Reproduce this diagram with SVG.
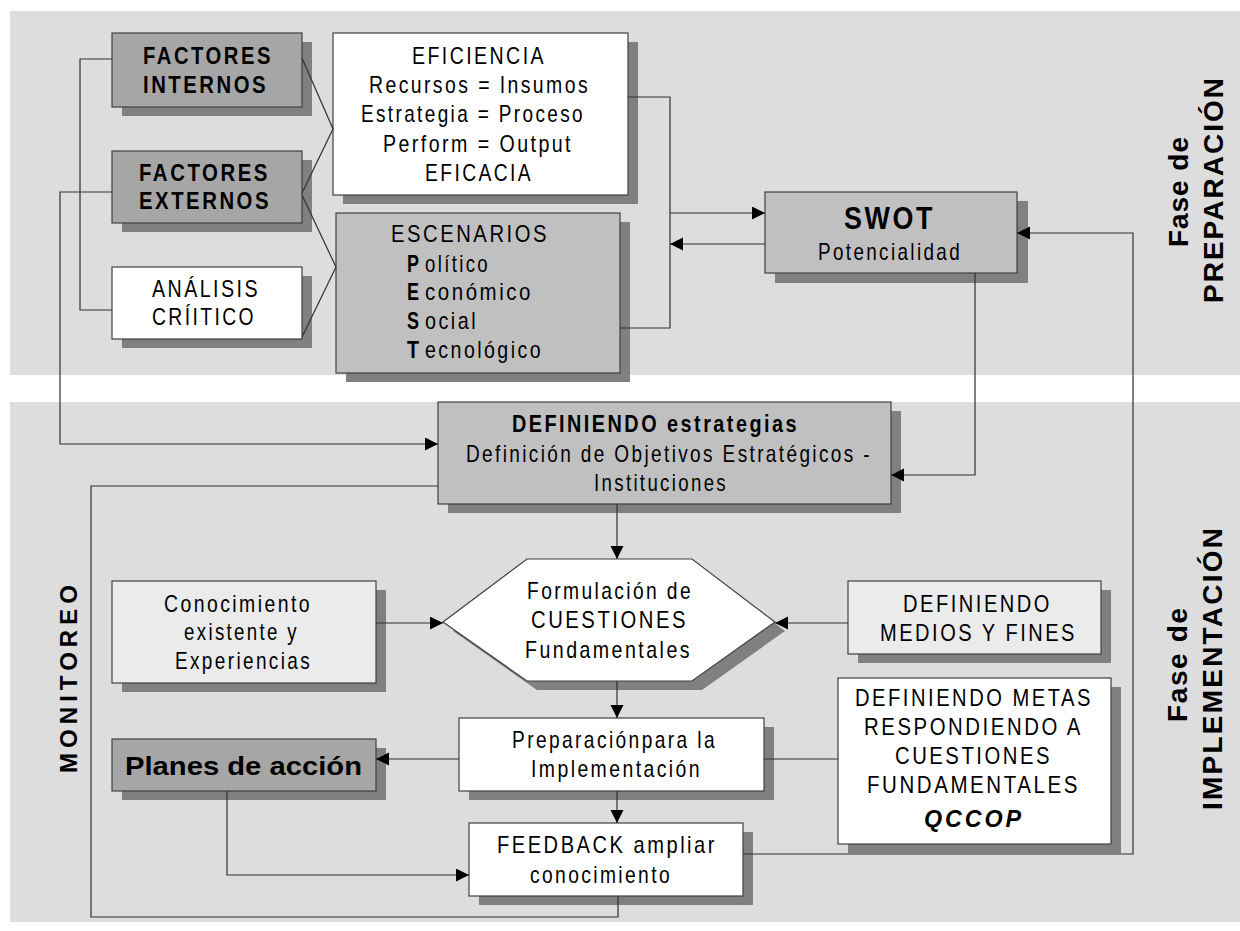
<svg xmlns="http://www.w3.org/2000/svg" width="1240" height="931" viewBox="0 0 1240 931">
<style>
.panel{fill:#dddddd}
.sh{fill:#808080}
.box{stroke:#404040;stroke-width:1.2}
.dark{fill:#a6a6a6}
.mid{fill:#c0c0c0}
.light{fill:#ebebeb}
.white{fill:#ffffff}
.t{font-family:"Liberation Sans",Arial,sans-serif;font-size:24px;letter-spacing:3px;fill:#000}
.b{font-weight:bold}
.side{font-family:"Liberation Sans",Arial,sans-serif;font-size:28px;font-weight:bold;fill:#000}
.con{fill:none;stroke:#303030;stroke-width:1.2}
</style>
<defs>
<marker id="ah" markerUnits="userSpaceOnUse" markerWidth="14" markerHeight="14" refX="13" refY="6.5" orient="auto">
<path d="M0,0 L13,6.5 L0,13 z" fill="#000"/>
</marker>
</defs>

<rect class="panel" x="10" y="11" width="1230" height="364"/>
<rect class="panel" x="10" y="402" width="1230" height="520"/>

<g id="fase-preparacion">
<text class="side" transform="translate(1188,192) rotate(-90)" x="-55" textLength="110" lengthAdjust="spacing">Fase de</text>
<text class="side" transform="translate(1223,190.5) rotate(-90)" x="-112.5" textLength="225" lengthAdjust="spacing">PREPARACIÓN</text>
</g>
<g id="fase-implementacion">
<text class="side" transform="translate(1187,665) rotate(-90)" x="-57" textLength="114" lengthAdjust="spacing">Fase de</text>
<text class="side" transform="translate(1222,669) rotate(-90)" x="-141" textLength="282" lengthAdjust="spacing">IMPLEMENTACIÓN</text>
</g>
<g id="monitoreo">
<text class="side" style="font-size:24px" transform="translate(77,679) rotate(-90)" x="-94" textLength="188" lengthAdjust="spacing">MONITOREO</text>
</g>

<g id="factores-internos">
<rect class="sh" x="122" y="42" width="190" height="74"/>
<rect class="box dark" x="112" y="33" width="190" height="74"/>
<text class="t b" x="143" y="64" textLength="130" lengthAdjust="spacingAndGlyphs">FACTORES</text>
<text class="t b" x="143" y="93" textLength="125" lengthAdjust="spacingAndGlyphs">INTERNOS</text>
</g>
<g id="factores-externos">
<rect class="sh" x="122" y="160" width="190" height="72"/>
<rect class="box dark" x="112" y="151" width="190" height="72"/>
<text class="t b" x="139" y="181" textLength="131" lengthAdjust="spacingAndGlyphs">FACTORES</text>
<text class="t b" x="139" y="209" textLength="132" lengthAdjust="spacingAndGlyphs">EXTERNOS</text>
</g>
<g id="analisis-critico">
<rect class="sh" x="122" y="276" width="190" height="72"/>
<rect class="box white" x="112" y="267" width="190" height="72"/>
<text class="t" x="152" y="297" textLength="108" lengthAdjust="spacingAndGlyphs">ANÁLISIS</text>
<text class="t" x="152" y="325" textLength="104" lengthAdjust="spacingAndGlyphs">CRÍITICO</text>
</g>
<g id="eficiencia">
<rect class="sh" x="343" y="42" width="295" height="162"/>
<rect class="box white" x="333" y="33" width="295" height="162"/>
<text class="t" x="412" y="64" textLength="134" lengthAdjust="spacingAndGlyphs">EFICIENCIA</text>
<text class="t" x="369" y="93" textLength="221" lengthAdjust="spacingAndGlyphs">Recursos = Insumos</text>
<text class="t" x="361" y="122" textLength="224" lengthAdjust="spacingAndGlyphs">Estrategia = Proceso</text>
<text class="t" x="383" y="152" textLength="190" lengthAdjust="spacingAndGlyphs">Perform = Output</text>
<text class="t" x="425" y="181" textLength="108" lengthAdjust="spacingAndGlyphs">EFICACIA</text>
</g>
<g id="escenarios">
<rect class="sh" x="346" y="222" width="284" height="160"/>
<rect class="box mid" x="336" y="213" width="284" height="160"/>
<text class="t" x="391" y="242" textLength="158" lengthAdjust="spacingAndGlyphs">ESCENARIOS</text>
<text class="t b" style="letter-spacing:0" x="407" y="272" textLength="12" lengthAdjust="spacingAndGlyphs">P</text>
<text class="t" x="425" y="272" textLength="65" lengthAdjust="spacingAndGlyphs">olítico</text>
<text class="t b" style="letter-spacing:0" x="407" y="300" textLength="12" lengthAdjust="spacingAndGlyphs">E</text>
<text class="t" x="425" y="300" textLength="108" lengthAdjust="spacingAndGlyphs">conómico</text>
<text class="t b" style="letter-spacing:0" x="407" y="329" textLength="12" lengthAdjust="spacingAndGlyphs">S</text>
<text class="t" x="425" y="329" textLength="53" lengthAdjust="spacingAndGlyphs">ocial</text>
<text class="t b" style="letter-spacing:0" x="407" y="358" textLength="12" lengthAdjust="spacingAndGlyphs">T</text>
<text class="t" x="425" y="358" textLength="118" lengthAdjust="spacingAndGlyphs">ecnológico</text>
</g>
<g id="swot">
<rect class="sh" x="775" y="201" width="253" height="82"/>
<rect class="box mid" x="765" y="192" width="252" height="81"/>
<text class="t b" style="font-size:31px" x="844" y="229" textLength="91" lengthAdjust="spacingAndGlyphs">SWOT</text>
<text class="t" x="818" y="260" textLength="144" lengthAdjust="spacingAndGlyphs">Potencialidad</text>
</g>
<g id="definiendo-estrategias">
<rect class="sh" x="448" y="411" width="453" height="102"/>
<rect class="box mid" x="438" y="402" width="453" height="102"/>
<text class="t b" x="512" y="432" textLength="287" lengthAdjust="spacingAndGlyphs">DEFINIENDO  estrategias</text>
<text class="t" x="466" y="462" textLength="406" lengthAdjust="spacingAndGlyphs">Definición  de Objetivos Estratégicos -</text>
<text class="t" x="594" y="491" textLength="134" lengthAdjust="spacingAndGlyphs">Instituciones</text>
</g>
<g id="formulacion">
<polygon class="sh" points="453,631 537,568 702,568 785,631 702,690 537,690"/>
<polygon class="box white" points="443,622 527,559 692,559 775,622 692,681 527,681"/>
<text class="t" x="527" y="599" textLength="166" lengthAdjust="spacingAndGlyphs">Formulación de</text>
<text class="t" x="531" y="628" textLength="157" lengthAdjust="spacingAndGlyphs">CUESTIONES</text>
<text class="t" x="525" y="658" textLength="167" lengthAdjust="spacingAndGlyphs">Fundamentales</text>
</g>
<g id="conocimiento">
<rect class="sh" x="122" y="590" width="264" height="102"/>
<rect class="box light" x="112" y="581" width="264" height="102"/>
<text class="t" x="164" y="612" textLength="148" lengthAdjust="spacingAndGlyphs">Conocimiento</text>
<text class="t" x="184" y="640" textLength="115" lengthAdjust="spacingAndGlyphs">existente y</text>
<text class="t" x="175" y="669" textLength="137" lengthAdjust="spacingAndGlyphs">Experiencias</text>
</g>
<g id="medios-fines">
<rect class="sh" x="858" y="590" width="253" height="73"/>
<rect class="box light" x="848" y="581" width="253" height="73"/>
<text class="t" x="903" y="612" textLength="149" lengthAdjust="spacingAndGlyphs">DEFINIENDO</text>
<text class="t" x="880" y="641" textLength="197" lengthAdjust="spacingAndGlyphs">MEDIOS Y FINES</text>
</g>
<g id="preparacion">
<rect class="sh" x="469" y="727" width="305" height="73"/>
<rect class="box white" x="459" y="718" width="305" height="73"/>
<text class="t" x="512" y="748" textLength="205" lengthAdjust="spacingAndGlyphs">Preparaciónpara la</text>
<text class="t" x="531" y="777" textLength="171" lengthAdjust="spacingAndGlyphs">Implementación</text>
</g>
<g id="planes">
<rect class="sh" x="122" y="748" width="264" height="52"/>
<rect class="box dark" x="112" y="739" width="264" height="52"/>
<text class="t b" style="font-size:25px;letter-spacing:0" x="125" y="775" textLength="237" lengthAdjust="spacingAndGlyphs">Planes de acción</text>
</g>
<g id="metas">
<rect class="sh" x="848" y="687" width="273" height="166"/>
<rect class="box white" x="838" y="678" width="273" height="166"/>
<text class="t" x="855" y="706" textLength="238" lengthAdjust="spacingAndGlyphs">DEFINIENDO METAS</text>
<text class="t" x="864" y="735" textLength="219" lengthAdjust="spacingAndGlyphs">RESPONDIENDO A</text>
<text class="t" x="895" y="764" textLength="157" lengthAdjust="spacingAndGlyphs">CUESTIONES</text>
<text class="t" x="867" y="793" textLength="213" lengthAdjust="spacingAndGlyphs">FUNDAMENTALES</text>
<text class="t b" style="font-style:italic" x="924" y="827" textLength="100" lengthAdjust="spacingAndGlyphs">QCCOP</text>
</g>
<g id="feedback">
<rect class="sh" x="479" y="832" width="274" height="73"/>
<rect class="box white" x="469" y="823" width="274" height="73"/>
<text class="t" x="497" y="853" textLength="220" lengthAdjust="spacingAndGlyphs">FEEDBACK  ampliar</text>
<text class="t" x="530" y="883" textLength="142" lengthAdjust="spacingAndGlyphs">conocimiento</text>
</g>

<g id="connectors">
<polyline class="con" points="112,59 80,59 80,310 112,310"/>
<polyline class="con" points="112,192 60,192 60,444 438,444" marker-end="url(#ah)"/>
<line class="con" x1="302" y1="58" x2="333" y2="129"/>
<line class="con" x1="302" y1="193" x2="333" y2="129"/>
<line class="con" x1="302" y1="195" x2="336" y2="267"/>
<line class="con" x1="302" y1="337" x2="336" y2="267"/>
<polyline class="con" points="628,97 670,97 670,328 620,328"/>
<line class="con" x1="670" y1="213" x2="765" y2="213" marker-end="url(#ah)"/>
<line class="con" x1="765" y1="244" x2="670" y2="244" marker-end="url(#ah)"/>
<polyline class="con" points="975,273 975,475 891,475" marker-end="url(#ah)"/>
<polyline class="con" points="743,854 1133,854 1133,233 1017,233" marker-end="url(#ah)"/>
<line class="con" x1="617" y1="504" x2="617" y2="559" marker-end="url(#ah)"/>
<line class="con" x1="376" y1="623" x2="443" y2="623" marker-end="url(#ah)"/>
<line class="con" x1="848" y1="623" x2="775" y2="623" marker-end="url(#ah)"/>
<line class="con" x1="617" y1="681" x2="617" y2="718" marker-end="url(#ah)"/>
<line class="con" x1="459" y1="759" x2="376" y2="759" marker-end="url(#ah)"/>
<line class="con" x1="764" y1="759" x2="838" y2="759"/>
<line class="con" x1="617" y1="791" x2="617" y2="823" marker-end="url(#ah)"/>
<polyline class="con" points="227,791 227,875 469,875" marker-end="url(#ah)"/>
<polyline class="con" points="618,896 618,917 91,917 91,486 438,486"/>
</g>
</svg>
